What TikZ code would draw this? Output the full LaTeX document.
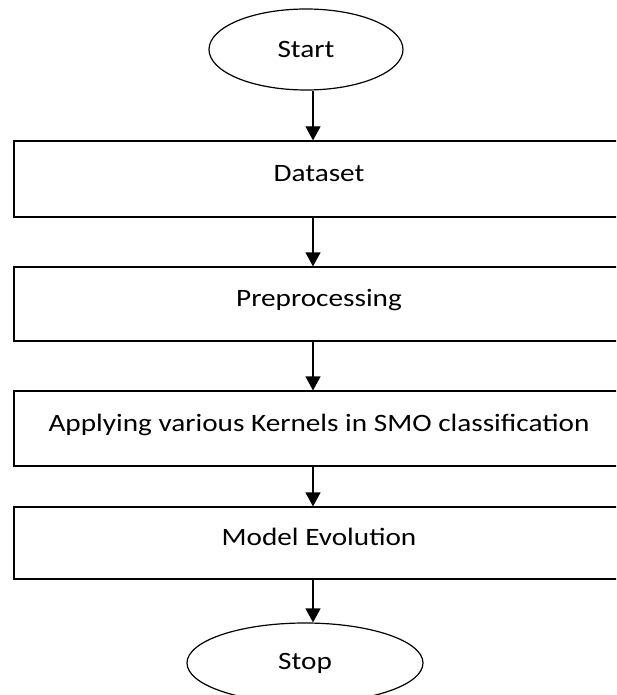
\documentclass[tikz,border=0pt]{standalone}
\usepackage{fontspec}
\setmainfont{Carlito}[FakeStretch=1.17]
\usetikzlibrary{arrows.meta,shapes.geometric}

\begin{document}
\begin{tikzpicture}[%
      x=1pt, y=-1pt,
      every node/.style={font=\fontsize{25}{30}\selectfont},
      stepbox/.style={draw, line width=1.2pt, rectangle, inner sep=0pt,
        minimum width=610pt, text height=18pt, text depth=13pt},
      terminal/.style={draw, line width=1.2pt, ellipse, inner sep=0pt},
      flow/.style={line width=1.2pt, -{Triangle[width=15pt,length=14pt]}},
      ]
      \useasboundingbox (0,0) rectangle (616,695);
      \clip (0,0) rectangle (616,695);

      \node[terminal, minimum width=194pt, minimum height=81pt] (start) at (306,49.5) {Start};
      \node[stepbox, minimum height=76pt] (dataset) at (319,179) {Dataset};
      \node[stepbox, minimum height=74pt] (prep) at (319,304) {Preprocessing};
      \node[stepbox, minimum height=75pt] (kernels) at (319,428.5) {Applying various Kernels in SMO classification};
      \node[stepbox, minimum height=72pt] (eval) at (319,543) {Model Evolution};
      \node[terminal, minimum width=236pt, minimum height=80pt] (stop) at (305,663) {Stop};

      % arrows run down one line, a little right of the ellipses
      \coordinate (axis) at (313,0);
      \draw[flow] (start.south -| axis) -- (dataset.north -| axis);
      \draw[flow] (dataset.south -| axis) -- (prep.north -| axis);
      \draw[flow] (prep.south -| axis) -- (kernels.north -| axis);
      \draw[flow] (kernels.south -| axis) -- (eval.north -| axis);
      \draw[flow] (eval.south -| axis) -- (stop.north -| axis);
\end{tikzpicture}
\end{document}
